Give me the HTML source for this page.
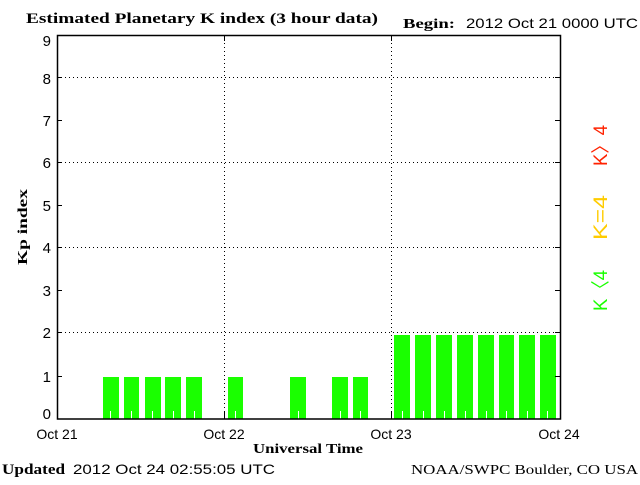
<!DOCTYPE html>
<html><head><style>
body{margin:0;background:#fff;width:640px;height:480px;overflow:hidden}
</style></head><body>
<svg width="640" height="480" xmlns="http://www.w3.org/2000/svg">
<rect width="640" height="480" fill="#fff"/>
<text x="26" y="23" font-family="Liberation Serif,serif" font-weight="bold" font-size="15" textLength="352" lengthAdjust="spacingAndGlyphs">Estimated Planetary K index (3 hour data)</text>
<text x="403" y="28" font-family="Liberation Serif,serif" font-weight="bold" font-size="14" textLength="52" lengthAdjust="spacingAndGlyphs">Begin:</text>
<text x="466" y="28" font-family="Liberation Sans,sans-serif" font-size="14" textLength="172" lengthAdjust="spacingAndGlyphs">2012 Oct 21 0000 UTC</text>
<g stroke="#000" stroke-width="1" stroke-dasharray="1,3">
<line x1="57" y1="77.5" x2="560" y2="77.5"/><line x1="57" y1="162.5" x2="560" y2="162.5"/>
<line x1="57" y1="247.5" x2="560" y2="247.5"/><line x1="57" y1="332.5" x2="560" y2="332.5"/>
<line x1="224.5" y1="35" x2="224.5" y2="419"/><line x1="391.5" y1="35" x2="391.5" y2="419"/>
</g>
<g fill="#1aff00">
<rect x="103" y="377" width="16" height="42"/><rect x="124" y="377" width="15" height="42"/>
<rect x="145" y="377" width="16" height="42"/><rect x="165" y="377" width="16" height="42"/>
<rect x="186" y="377" width="16" height="42"/><rect x="228" y="377" width="15" height="42"/>
<rect x="290" y="377" width="16" height="42"/><rect x="332" y="377" width="16" height="42"/>
<rect x="353" y="377" width="15" height="42"/>
<rect x="394" y="335" width="16" height="84"/><rect x="415" y="335" width="16" height="84"/>
<rect x="436" y="335" width="16" height="84"/><rect x="457" y="335" width="16" height="84"/>
<rect x="478" y="335" width="16" height="84"/><rect x="499" y="335" width="15" height="84"/>
<rect x="519" y="335" width="16" height="84"/><rect x="540" y="335" width="16" height="84"/>
</g>
<g stroke="#fff" stroke-width="1">
<path d="M110.5 411V419M131.5 411V419M152.5 411V419M173.5 411V419M194.5 411V419M235.5 411V419M298.5 411V419M340.5 411V419M360.5 411V419M402.5 411V419M423.5 411V419M444.5 411V419M465.5 411V419M486.5 411V419M506.5 411V419M527.5 411V419M547.5 411V419"/>
</g>
<rect x="57.5" y="35.5" width="503" height="383.5" fill="none" stroke="#000" stroke-width="1.5"/>
<g stroke="#000"><path d="M57 77.5h5M57 120.5h5M57 162.5h5M57 205.5h5M57 247.5h5M57 290.5h5M57 332.5h5M57 376.5h5M555 77.5h5M555 120.5h5M555 162.5h5M555 205.5h5M555 247.5h5M555 290.5h5M555 332.5h5M555 376.5h5M224.5 411v8M391.5 411v8M224.5 35v6M391.5 35v6"/></g>
<g font-family="Liberation Sans,sans-serif" font-size="15" text-anchor="end">
<text x="51" y="46">9</text><text x="51" y="84">8</text><text x="51" y="126">7</text><text x="51" y="168">6</text><text x="51" y="211">5</text><text x="51" y="253">4</text><text x="51" y="296">3</text><text x="51" y="338">2</text><text x="51" y="382">1</text><text x="51" y="419">0</text>
</g>
<g font-family="Liberation Sans,sans-serif" font-size="14" text-anchor="middle">
<text x="57" y="439">Oct 21</text><text x="224" y="439">Oct 22</text><text x="391" y="439">Oct 23</text><text x="559" y="439">Oct 24</text>
</g>
<text x="253" y="453" font-family="Liberation Serif,serif" font-weight="bold" font-size="14" textLength="110" lengthAdjust="spacingAndGlyphs">Universal Time</text>
<text transform="translate(27,265) rotate(-90)" font-family="Liberation Serif,serif" font-weight="bold" font-size="14" textLength="76" lengthAdjust="spacingAndGlyphs">Kp index</text>
<text x="2" y="474" font-family="Liberation Serif,serif" font-weight="bold" font-size="15" textLength="63" lengthAdjust="spacingAndGlyphs">Updated</text>
<text x="73" y="474" font-family="Liberation Sans,sans-serif" font-size="14" textLength="202" lengthAdjust="spacingAndGlyphs">2012 Oct 24 02:55:05 UTC</text>
<text x="411" y="474" font-family="Liberation Serif,serif" font-size="14" textLength="227" lengthAdjust="spacingAndGlyphs">NOAA/SWPC Boulder, CO USA</text>
<g font-family="Liberation Sans,sans-serif" font-size="19">
<text transform="translate(607,311) rotate(-90)" fill="#1aff00" textLength="41" lengthAdjust="spacingAndGlyphs">K〈4</text>
<text transform="translate(607,240) rotate(-90)" fill="#ffcc00" textLength="45" lengthAdjust="spacingAndGlyphs">K=4</text>
<text transform="translate(607,166) rotate(-90)" fill="#ff2200" textLength="41" lengthAdjust="spacingAndGlyphs">K〉4</text>
</g>
</svg>
</body></html>
